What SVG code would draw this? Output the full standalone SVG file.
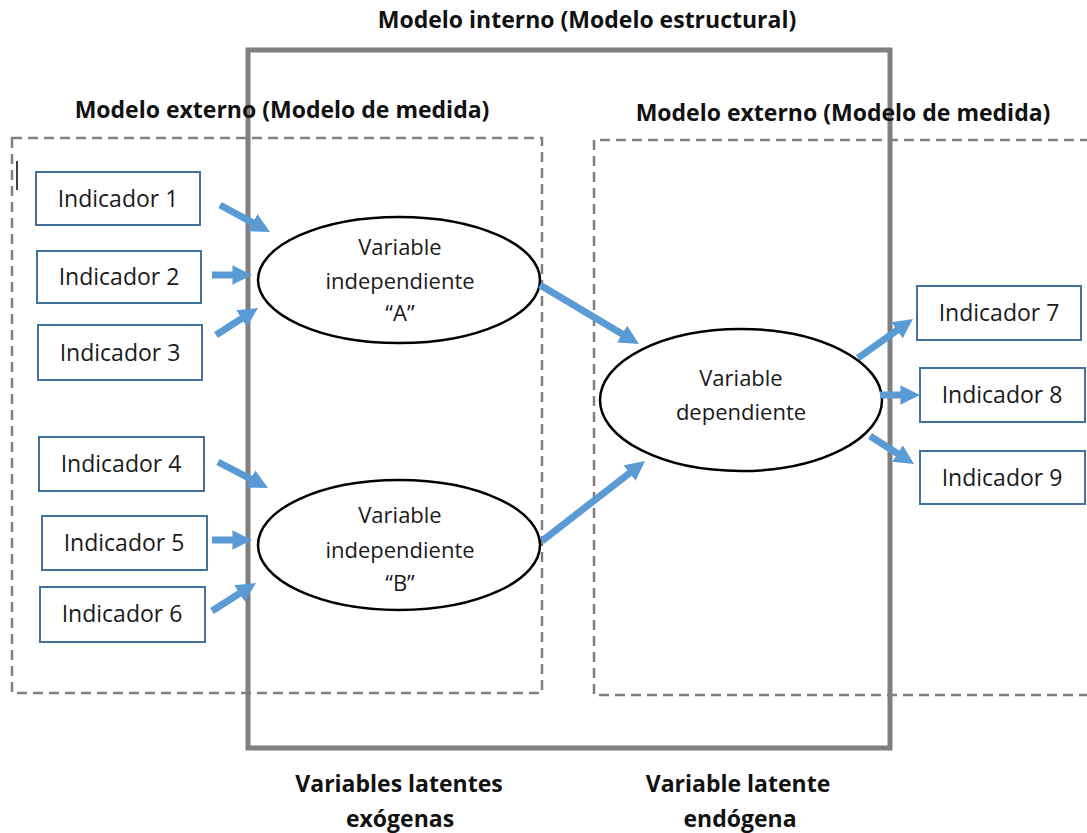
<svg xmlns="http://www.w3.org/2000/svg" width="1087" height="833" viewBox="0 0 1087 833">
  <style>
    .frame { fill: none; stroke: #7f7f7f; stroke-width: 5; }
    .dash { fill: none; stroke: #7f7f7f; stroke-width: 2.5; stroke-dasharray: 10 6; }
    .ind rect { fill: #ffffff; stroke: #41719c; stroke-width: 2; }
    .ind text, .lat text { font-family: "Open Sans", "Liberation Sans", sans-serif; font-size: 23px; fill: #1a1a1a; text-anchor: middle; }
    .lat text { font-size: 22px; }
    .lat ellipse { fill: #ffffff; stroke: #000000; stroke-width: 2.5; }
    .head { font-family: "Open Sans", "Liberation Sans", sans-serif; font-size: 23px; font-weight: bold; fill: #111111; text-anchor: middle; }
    .arr { stroke: #5b9bd5; stroke-width: 7; fill: none; marker-end: url(#tip); }
  </style>
  <defs>
    <marker id="tip" viewBox="0 0 10 10" refX="3" refY="5" markerWidth="2.8" markerHeight="2.8" orient="auto" markerUnits="strokeWidth">
      <path d="M0,0 L10,5 L0,10 z" fill="#5b9bd5"/>
    </marker>
  </defs>

  <rect width="1087" height="833" fill="#ffffff"/>

  <!-- measurement model regions -->
  <g id="outer-left">
    <rect class="dash" x="12" y="138" width="530" height="555"/>
  </g>
  <g id="outer-right">
    <path class="dash" d="M1090,140 H594 V695 H1090"/>
  </g>

  <!-- structural model frame -->
  <g id="inner-model">
    <rect class="frame" x="248" y="50" width="642" height="698"/>
  </g>

  <!-- text cursor mark -->
  <line x1="17" y1="161" x2="17" y2="190" stroke="#000000" stroke-width="1.5"/>

  <!-- headings -->
  <g id="headings">
    <text class="head" x="587" y="28">Modelo interno (Modelo estructural)</text>
    <text class="head" x="282" y="118">Modelo externo (Modelo de medida)</text>
    <text class="head" x="843" y="121">Modelo externo (Modelo de medida)</text>
    <text class="head" x="399" y="792">Variables latentes</text>
    <text class="head" x="400" y="827">exógenas</text>
    <text class="head" x="738" y="792">Variable latente</text>
    <text class="head" x="740" y="827">endógena</text>
  </g>

  <!-- latent variables -->
  <g id="var-a" class="lat">
    <ellipse cx="399" cy="280" rx="141" ry="63"/>
    <text x="400" y="255">Variable</text>
    <text x="400" y="289">independiente</text>
    <text x="400" y="321">“A”</text>
  </g>
  <g id="var-b" class="lat">
    <ellipse cx="399" cy="545" rx="141" ry="65"/>
    <text x="400" y="523">Variable</text>
    <text x="400" y="558">independiente</text>
    <text x="400" y="591">“B”</text>
  </g>
  <g id="var-dep" class="lat">
    <ellipse cx="741" cy="400" rx="141" ry="71"/>
    <text x="741" y="386">Variable</text>
    <text x="741" y="420">dependiente</text>
  </g>

  <!-- indicators -->
  <g id="ind1" class="ind"><rect x="36" y="172" width="164" height="53"/><text x="118" y="207">Indicador 1</text></g>
  <g id="ind2" class="ind"><rect x="37" y="251" width="164" height="52"/><text x="119" y="285">Indicador 2</text></g>
  <g id="ind3" class="ind"><rect x="38" y="325" width="164" height="55"/><text x="120" y="361">Indicador 3</text></g>
  <g id="ind4" class="ind"><rect x="39" y="437" width="165" height="54"/><text x="121" y="472">Indicador 4</text></g>
  <g id="ind5" class="ind"><rect x="42" y="516" width="165" height="54"/><text x="124" y="551">Indicador 5</text></g>
  <g id="ind6" class="ind"><rect x="40" y="587" width="165" height="55"/><text x="122" y="622">Indicador 6</text></g>
  <g id="ind7" class="ind"><rect x="917" y="286" width="164" height="54"/><text x="999" y="321">Indicador 7</text></g>
  <g id="ind8" class="ind"><rect x="920" y="368" width="165" height="54"/><text x="1002" y="403">Indicador 8</text></g>
  <g id="ind9" class="ind"><rect x="920" y="451" width="165" height="53"/><text x="1002" y="486">Indicador 9</text></g>

  <!-- connectors -->
  <g id="connectors">
    <line class="arr" x1="220" y1="205" x2="257.9" y2="225.5"/>
    <line class="arr" x1="212" y1="275" x2="238.3" y2="275"/>
    <line class="arr" x1="216" y1="335" x2="246.5" y2="315.4"/>
    <line class="arr" x1="218" y1="462" x2="255.9" y2="481.7"/>
    <line class="arr" x1="212" y1="540" x2="238.3" y2="540"/>
    <line class="arr" x1="212" y1="611" x2="244.5" y2="590.3"/>
    <line class="arr" x1="540" y1="285" x2="627.2" y2="337.0"/>
    <line class="arr" x1="542" y1="541" x2="634.2" y2="469.4"/>
    <line class="arr" x1="858" y1="358" x2="901.8" y2="326.9"/>
    <line class="arr" x1="880" y1="395" x2="906.3" y2="395"/>
    <line class="arr" x1="870" y1="436" x2="902.5" y2="456.7"/>
  </g>
</svg>
